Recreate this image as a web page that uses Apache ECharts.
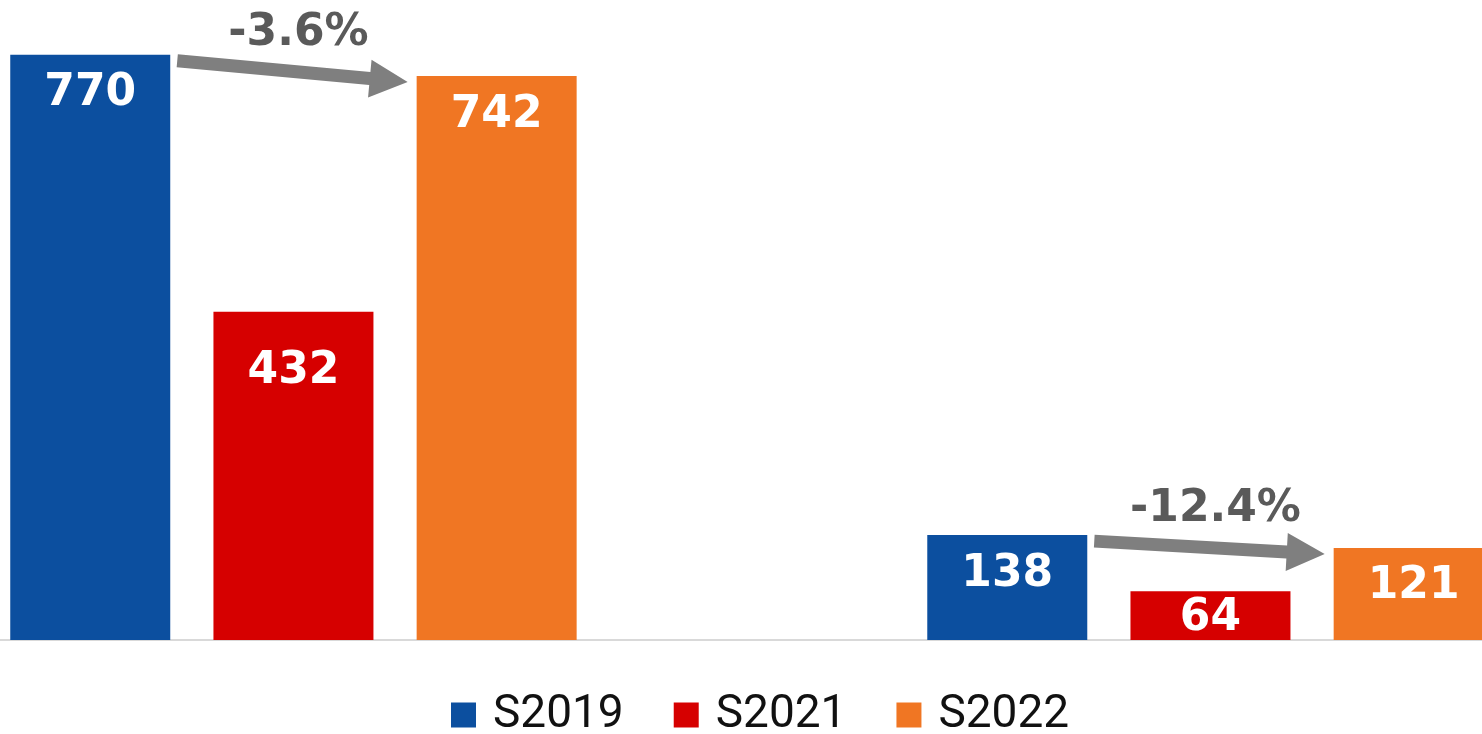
<!DOCTYPE html>
<html>
<head>
<meta charset="utf-8">
<script src="https://cdn.jsdelivr.net/npm/echarts@6/dist/echarts.min.js"></script>
<style>
html,body{margin:0;padding:0;background:#fff;}
#main{width:1482px;height:734px;}
</style>
</head>
<body>
<div id="main"></div>
<script>
// ---- data ----
var categories = ['Group A', 'Group B'];
var seriesNames = ['S2019', 'S2021', 'S2022'];
var s2019 = [770, 138];
var s2021 = [432, 64];
var s2022 = [742, 121];
var pctLabels = ['-3.6%', '-12.4%'];

var colors = ['#0c4f9f', '#d60000', '#f07623'];
var BAR_W = 160;
var BAR_GAP = 0.27;

var chart = echarts.init(document.getElementById('main'));

function barSeries(name, values, color, overrides) {
  return {
    name: name,
    type: 'bar',
    barWidth: BAR_W,
    barGap: (BAR_GAP * 100) + '%',
    itemStyle: { color: color },
    label: {
      show: true,
      position: 'insideTop',
      distance: 17,
      color: '#fff',
      fontFamily: 'DejaVu Sans',
      fontWeight: 'bold',
      fontSize: 44
    },
    data: values.map(function (v, i) {
      var o = { value: [i, v] };
      if (overrides && overrides[i]) o.label = overrides[i];
      return o;
    })
  };
}

var arrowData = categories.map(function (c, i) {
  return [i, s2019[i], s2022[i], pctLabels[i]];
});

function renderArrow(params, api) {
  var i = api.value(0);
  var pStart = api.coord([i, api.value(1)]);
  var pEnd = api.coord([i, api.value(2)]);
  var edge = BAR_W / 2 + BAR_W * BAR_GAP;
  var x0 = pStart[0] - edge + 7;
  var y0 = pStart[1] + 6;
  var x1 = pEnd[0] + edge - 9;
  var y1 = pEnd[1] + 6;
  var dx = x1 - x0, dy = y1 - y0;
  var len = Math.sqrt(dx * dx + dy * dy);
  var ux = dx / len, uy = dy / len;
  var nx = -uy, ny = ux;
  var sh = 6.5, hw = 19, hl = 38;
  var bx = x1 - ux * hl, by = y1 - uy * hl;
  var pts = [
    [x0 + nx * sh, y0 + ny * sh],
    [bx + nx * sh, by + ny * sh],
    [bx + nx * hw, by + ny * hw],
    [x1, y1],
    [bx - nx * hw, by - ny * hw],
    [bx - nx * sh, by - ny * sh],
    [x0 - nx * sh, y0 - ny * sh]
  ];
  var midY = (y0 + y1) / 2;
  return {
    type: 'group',
    children: [
      { type: 'polygon', shape: { points: pts }, style: { fill: '#7f7f7f' } },
      {
        type: 'text',
        style: {
          text: api.value(3),
          x: (x0 + x1) / 2 + 6,
          y: midY - 38,
          align: 'center',
          verticalAlign: 'middle',
          fill: '#5a5a5a',
          font: 'bold 44px "DejaVu Sans"'
        }
      }
    ]
  };
}

var option = {
  animation: false,
  color: colors,
  grid: { left: 0, right: 0, top: 32, height: 608, containLabel: false },
  xAxis: {
    type: 'value',
    min: -0.32,
    max: 1.2961,
    axisLine: { show: true, onZero: false, lineStyle: { color: '#d9d9d9', width: 2 } },
    axisTick: { show: false },
    axisLabel: { show: false },
    splitLine: { show: false }
  },
  yAxis: {
    type: 'value',
    min: 0,
    max: 800,
    show: false,
    splitLine: { show: false }
  },
  legend: {
    data: seriesNames,
    top: 687,
    left: 446,
    icon: 'rect',
    itemWidth: 25,
    itemHeight: 25,
    itemGap: 50,
    textStyle: { fontFamily: 'Roboto', fontSize: 46, color: '#111', padding: [0, 0, 0, 12] }
  },
  series: [
    barSeries('S2019', s2019, colors[0]),
    barSeries('S2021', s2021, colors[1], [{ distance: 38 }, { position: 'inside', offset: [0, 3] }]),
    barSeries('S2022', s2022, colors[2]),
    {
      type: 'custom',
      renderItem: renderArrow,
      data: arrowData,
      encode: { x: 0, y: [1, 2] },
      z: 10,
      silent: true
    }
  ]
};
chart.setOption(option);
</script>
</body>
</html>
